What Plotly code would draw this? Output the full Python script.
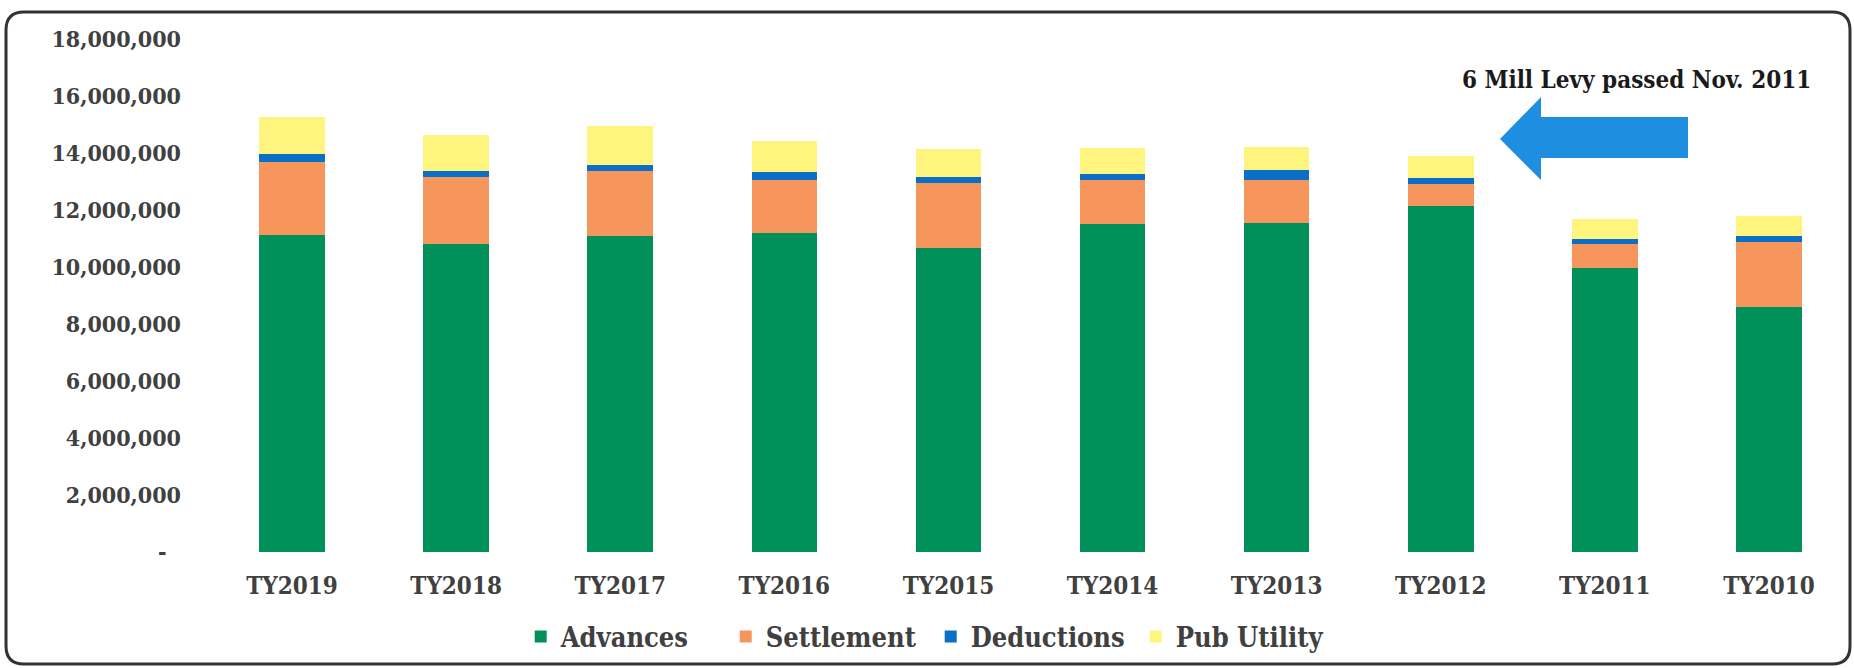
import plotly.graph_objects as go

categories = ["TY2019", "TY2018", "TY2017", "TY2016", "TY2015",
              "TY2014", "TY2013", "TY2012", "TY2011", "TY2010"]
advances = [11120000, 10820000, 11080000, 11210000, 10650000,
            11510000, 11550000, 12140000, 9950000, 8580000]
settlement = [2560000, 2330000, 2280000, 1860000, 2300000,
              1550000, 1510000, 760000, 840000, 2280000]
deductions = [270000, 210000, 210000, 250000, 200000,
              200000, 330000, 230000, 210000, 220000]
pub_utility = [1330000, 1280000, 1380000, 1100000, 990000,
               910000, 820000, 780000, 700000, 700000]

y_ticks = [0, 2000000, 4000000, 6000000, 8000000, 10000000,
           12000000, 14000000, 16000000, 18000000]
y_tick_text = ["-\u00a0\u00a0"] + [f"{v:,}" for v in y_ticks[1:]]

series = [
    ("Advances", advances, "#00915A"),
    ("Settlement", settlement, "#F7965C"),
    ("Deductions", deductions, "#0A6FC6"),
    ("Pub Utility", pub_utility, "#FFF57E"),
]

W, H = 1854, 668
L, R, T, B = 210, 3, 39, 116
PW, PH = W - L - R, H - T - B

def px(x):
    return (x - L) / PW

def py(y):
    return (H - B - y) / PH

FONT = "DejaVu Serif Condensed, DejaVu Serif, serif"

fig = go.Figure()
for name, vals, color in series:
    fig.add_trace(go.Bar(
        x=categories, y=vals, name=name,
        marker=dict(color=color, line=dict(width=0)),
    ))

fig.update_layout(
    width=W, height=H,
    barmode="stack", bargap=0.6,
    plot_bgcolor="white", paper_bgcolor="white",
    margin=dict(l=L, r=R, t=T, b=B),
    font=dict(family=FONT, color="#404040", weight="bold"),
    xaxis=dict(showgrid=False, showline=False, zeroline=False,
               ticks="", tickfont=dict(size=24, family=FONT, weight="bold", color="#404040"),
               ticklabelstandoff=17),
    yaxis=dict(range=[0, 18000000], tickvals=y_ticks, ticktext=y_tick_text,
               showgrid=False, showline=False, zeroline=False, ticks="",
               tickfont=dict(size=23, family=FONT, weight="bold", color="#404040"),
               ticklabelstandoff=28),
    legend=dict(orientation="h", xref="container", x=0.502, xanchor="center",
                yref="container", y=1 - 637 / H, yanchor="middle",
                font=dict(size=27, family=FONT, weight="bold", color="#404040"),
                traceorder="normal", entrywidth=160, entrywidthmode="pixels"),
    showlegend=True,
)

# annotation text
fig.add_annotation(
    xref="paper", yref="paper", x=px(1636), y=py(79),
    text="6 Mill Levy passed Nov. 2011", showarrow=False,
    xanchor="center", yanchor="middle",
    font=dict(size=24, family=FONT, weight="bold", color="#1a1a1a"),
)

# block arrow pointing left
pts = [(1500, 139), (1541, 97), (1541, 117), (1688, 117), (1688, 158),
       (1541, 158), (1541, 180)]
path = "M " + " L ".join(f"{px(a):.5f},{py(b):.5f}" for a, b in pts) + " Z"
fig.add_shape(type="path", xref="paper", yref="paper", path=path,
              fillcolor="#1E8EE0", line=dict(width=0), layer="above")

# rounded frame
x0, y0, x1, y1, r = 6, 12, 1850, 664, 18
def P(a, b):
    return f"{px(a):.5f},{py(b):.5f}"
frame = (f"M {P(x0 + r, y0)} L {P(x1 - r, y0)} Q {P(x1, y0)} {P(x1, y0 + r)} "
         f"L {P(x1, y1 - r)} Q {P(x1, y1)} {P(x1 - r, y1)} "
         f"L {P(x0 + r, y1)} Q {P(x0, y1)} {P(x0, y1 - r)} "
         f"L {P(x0, y0 + r)} Q {P(x0, y0)} {P(x0 + r, y0)} Z")
fig.add_shape(type="path", xref="paper", yref="paper", path=frame,
              line=dict(color="#333333", width=3), fillcolor="rgba(0,0,0,0)")

fig.write_html(
    "out.html",
    config={"displayModeBar": False},
    post_script="document.body.style.margin='0';document.body.style.overflow='hidden';",
)
